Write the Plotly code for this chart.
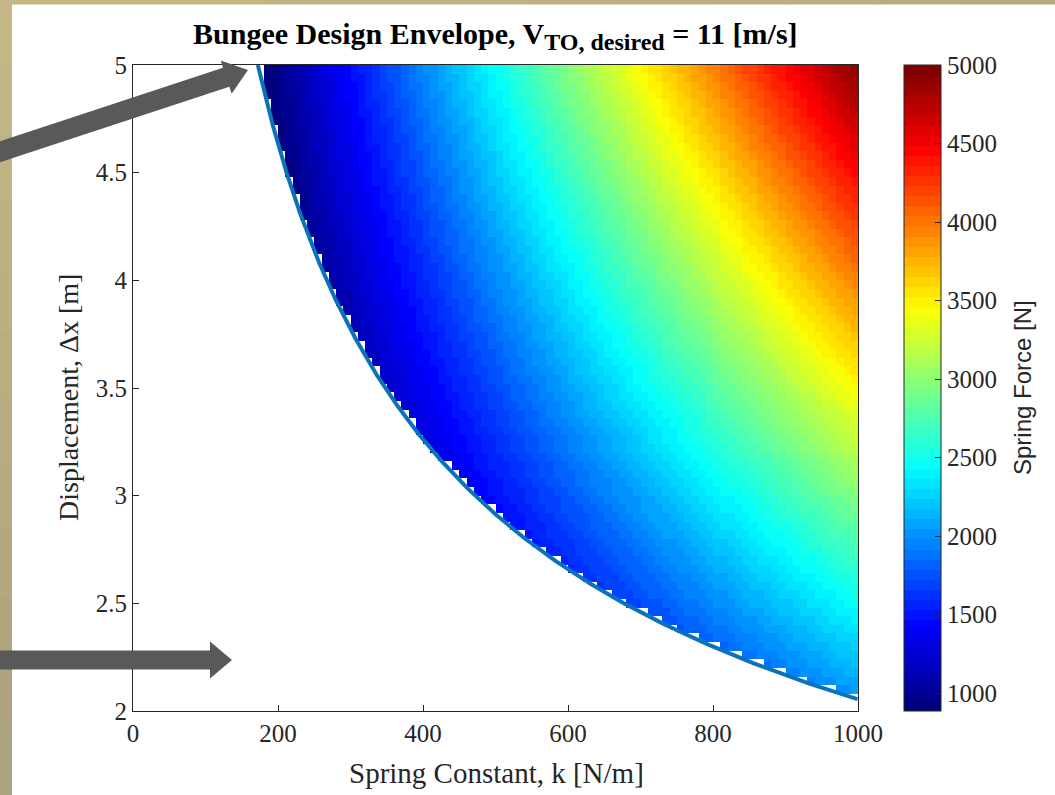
import numpy as np
import plotly.graph_objects as go

# ---------------- data ----------------
# grid of spring constants [N/m] and displacements [m] (pcolor vertices)
k_grid = np.linspace(0, 1000, 101)
dx_grid = np.linspace(2, 5, 76)
# design parameters read from the envelope
mass_kg = 34.4
v_to = 11.0
mu_fric = 0.042
g_acc = 9.81
colorbar_ticks = [1000, 1500, 2000, 2500, 3000, 3500, 4000, 4500, 5000]
x_ticks = [0, 200, 400, 600, 800, 1000]
y_ticks = [2, 2.5, 3, 3.5, 4, 4.5, 5]
y_tick_text = ["2", "2.5", "3", "3.5", "4", "4.5", "5"]

# ---------------- model ----------------
def feasible(k, x):
    return 0.5 * k * x**2 >= 0.5 * mass_kg * v_to**2 + mu_fric * mass_kg * g_acc * x

K, X = np.meshgrid(k_grid, dx_grid)
F = np.where(feasible(K, X), K * X, np.nan)
zmin, zmax = np.nanmin(F), np.nanmax(F)
# flat-shaded cells coloured by lower-left vertex
kq = k_grid[:-1] + 0.3 * np.diff(k_grid)
xq = dx_grid[:-1] + 0.3 * np.diff(dx_grid)
KQ, XQ = np.meshgrid(kq, xq)
Z = np.where(feasible(KQ, XQ), K[:-1, :-1] * X[:-1, :-1], np.nan)

# envelope boundary curve
xb = np.linspace(5, 2, 600)
kb = (mass_kg * v_to**2 + 2 * mu_fric * mass_kg * g_acc * xb) / xb**2
sel = kb <= 1000
xb, kb = xb[sel], kb[sel]

# MATLAB jet(64) discrete colorscale
def jet(t):
    r = np.clip(1.5 - abs(4 * t - 3), 0, 1)
    g = np.clip(1.5 - abs(4 * t - 2), 0, 1)
    b = np.clip(1.5 - abs(4 * t - 1), 0, 1)
    return f"rgb({int(r*255)},{int(g*255)},{int(b*255)})"

N = 64
cscale = []
for i in range(N):
    c = jet(i / (N - 1))
    cscale.append([i / N, c])
    cscale.append([(i + 1) / N, c])

SERIF = "Liberation Serif, Times New Roman, serif"
SANS = "Liberation Sans, Arial, sans-serif"
INK = "#262626"

fig = go.Figure()
fig.add_trace(go.Heatmap(
    x=k_grid, y=dx_grid, z=Z, zmin=zmin, zmax=zmax, colorscale=cscale,
    zsmooth=False, hoverinfo="skip",
    colorbar=dict(
        x=(904 - 133) / 725, xanchor="left", y=0.5, yanchor="middle",
        len=1, lenmode="fraction", thickness=37, thicknessmode="pixels",
        xpad=0, ypad=0,
        outlinecolor=INK, outlinewidth=1,
        tickvals=colorbar_ticks, ticks="inside", ticklen=6, tickcolor=INK,
        tickfont=dict(family=SERIF, size=25, color=INK),
    ),
))
fig.add_trace(go.Scatter(x=kb, y=xb, mode="lines",
                         line=dict(color="#0A72BA", width=4),
                         hoverinfo="skip", showlegend=False))

# ---------------- layout ----------------
PL, PR, PT, PB = 133, 858, 65, 711
W, H = 1055, 795

def pp(px, py):
    return ((px - PL) / (PR - PL), (PB - py) / (PB - PT))

shapes = []

def rect(x0, y0, x1, y1, color):
    a = pp(x0, y0); b = pp(x1, y1)
    shapes.append(dict(type="rect", xref="paper", yref="paper",
                       x0=a[0], y0=b[1], x1=b[0], y1=a[1],
                       fillcolor=color, line=dict(width=0), layer="above"))

def mix(c1, c2, t):
    return "rgb(%d,%d,%d)" % tuple(int(c1[i] + (c2[i] - c1[i]) * t) for i in range(3))

# tan slide border
nseg = 12
for i in range(nseg):
    rect(0, i * H / nseg, 12, (i + 1) * H / nseg + 1,
         mix((198, 184, 134), (170, 162, 126), (i + 0.5) / nseg))
    rect(i * W / nseg, -2, (i + 1) * W / nseg + 1, 4.5,
         mix((198, 184, 134), (184, 171, 128), (i + 0.5) / nseg))

def arrow(tail, tip, w, hw, hl, color="#595959"):
    t = np.array(tail, float); h = np.array(tip, float)
    u = (h - t) / np.linalg.norm(h - t)
    n = np.array([-u[1], u[0]])
    base = h - u * hl
    pts = [t + n * w / 2, base + n * w / 2, base + n * hw / 2, h,
           base - n * hw / 2, base - n * w / 2, t - n * w / 2]
    path = ""
    for j, p in enumerate(pts):
        q = pp(p[0], p[1])
        path += ("M" if j == 0 else "L") + f"{q[0]:.5f},{q[1]:.5f} "
    path += "Z"
    shapes.append(dict(type="path", xref="paper", yref="paper", path=path,
                       fillcolor=color, line=dict(width=0), layer="above"))

arrow((-10, 155), (248, 70), 20, 35, 23)
arrow((-10, 660), (232, 660), 19, 37, 22)

axis_common = dict(showline=True, linecolor=INK, linewidth=1, mirror=True,
                   ticks="inside", ticklen=6, tickcolor=INK, showgrid=False,
                   zeroline=False, tickfont=dict(family=SERIF, size=25, color=INK))

fig.update_layout(
    width=W, height=H, margin=dict(l=PL, r=W - PR, t=PT, b=H - PB),
    paper_bgcolor="white", plot_bgcolor="white", showlegend=False,
    xaxis=dict(range=[0, 1000], tickvals=x_ticks, **axis_common),
    yaxis=dict(range=[2, 5], tickvals=y_ticks, ticktext=y_tick_text, **axis_common),
    shapes=shapes,
    annotations=[
        dict(text="<b>Bungee Design Envelope, V<sub><span style='font-size:24px'>TO, desired</span></sub> = 11 [m/s]</b>",
             xref="paper", yref="paper", x=pp(495, 0)[0], y=pp(0, 36)[1],
             xanchor="center", yanchor="middle", showarrow=False,
             font=dict(family=SERIF, size=30, color="black")),
        dict(text="Spring Constant, k [N/m]", xref="paper", yref="paper",
             x=pp(496, 0)[0], y=pp(0, 773)[1], xanchor="center", yanchor="middle",
             showarrow=False, font=dict(family=SERIF, size=29, color=INK)),
        dict(text="Displacement, Δx [m]", xref="paper", yref="paper",
             x=pp(68, 0)[0], y=pp(0, 398)[1], xanchor="center", yanchor="middle",
             textangle=-90, showarrow=False, font=dict(family=SERIF, size=28, color=INK)),
        dict(text="Spring Force [N]", xref="paper", yref="paper",
             x=pp(1022, 0)[0], y=pp(0, 388)[1], xanchor="center", yanchor="middle",
             textangle=-90, showarrow=False, font=dict(family=SANS, size=24, color=INK)),
    ],
)

fig.write_html("out.html", config={"displayModeBar": False},
               post_script="document.body.style.margin='0';document.body.style.overflow='hidden';")
